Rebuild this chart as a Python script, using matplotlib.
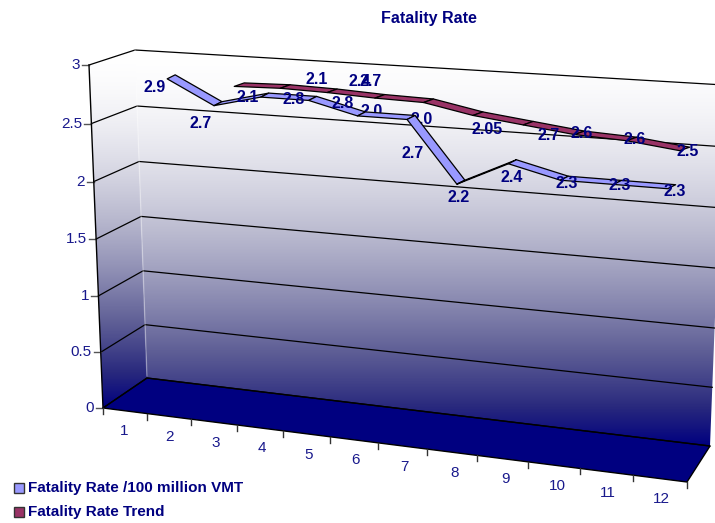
import numpy as np
import matplotlib
matplotlib.use('Agg')
import matplotlib.pyplot as plt
from matplotlib.patches import Polygon

plt.rcParams['font.family'] = ['Liberation Sans', 'DejaVu Sans']

categories = [1, 2, 3, 4, 5, 6, 7, 8, 9, 10, 11, 12]
value_ticks = [0, 0.5, 1, 1.5, 2, 2.5, 3]
value_tick_labels = ['0', '0.5', '1', '1.5', '2', '2.5', '3']
rate_name = 'Fatality Rate /100 million VMT'
trend_name = 'Fatality Rate Trend'
rate_values = [np.nan, 2.9, 2.7, 2.8, 2.8, 2.7, 2.7, 2.2, 2.4, 2.3, 2.3, 2.3]
trend_values = [np.nan, np.nan, 2.79, 2.80, 2.79, 2.77, 2.76, 2.68, 2.63, 2.58, 2.56, 2.51]

# data labels as they stand in the picture, some of them overlap
under_labels = ['2.0', '2.0']
over_labels = ['2.9', '2.7', '2.1', '2.8', '2.8', '2.7', '2.2', '2.4', '2.3', '2.3', '2.3',
               '2.1', '2.4', '2.7', '2.05', '2.7', '2.6', '2.6', '2.5']

# pixel layout
W, H = 715, 523
under_xy = [(372, 111), (422, 119)]
over_xy = [(155, 87), (201, 123), (248, 98), (294, 99), (343, 103), (413, 154), (459, 198),
           (512, 178), (567, 183), (620, 186), (675, 191),
           (317, 80), (360, 82), (371, 81), (487, 129), (549, 136), (582, 133), (635, 140), (688, 152)]
cat_label_xy = [(124, 431), (169, 437), (216, 443), (262, 448), (309, 455), (356, 460),
                (404, 467), (455, 473), (505, 479), (557, 486), (608, 493), (661, 499)]
# box corners, [depth][value][category]
corners = np.array([[[(103, 408), (687, 482)], [(89, 65), (704, 106)]],
                    [[(147, 378), (710, 446)], [(135, 50), (724, 85)]]], dtype=float)
NAVY = '#000080'
RATE_COLOR = '#9999FF'
TREND_COLOR = '#993366'


def persp(t, k):
    return t / (t + k * (1 - t))


def project(u, d, v):
    # u is in category widths from the left edge, d is depth 0..1, v the value
    a = persp(u / 12.0, 1.12)
    b = persp(v / 3.0, 1.03)
    front = (corners[0][0][0] * (1 - a) + corners[0][0][1] * a) * (1 - b) \
        + (corners[0][1][0] * (1 - a) + corners[0][1][1] * a) * b
    back = (corners[1][0][0] * (1 - a) + corners[1][0][1] * a) * (1 - b) \
        + (corners[1][1][0] * (1 - a) + corners[1][1][1] * a) * b
    return front * (1 - d) + back * d


def ribbon_pos(cat):
    return 1.52 + 0.984 * (cat - 2)


fig = plt.figure(figsize=(W / 100, H / 100), dpi=100)
ax = fig.add_axes([0, 0, 1, 1])


def gradient_wall(points, gamma=1.7):
    ys = [p[1] for p in points]
    xs = [p[0] for p in points]
    t = np.linspace(0, 1, 256) ** gamma
    red = 255 * (1 - t)
    # white to navy, greyer in the middle than a straight blend
    blue = np.interp(red, [0, 40, 95, 190, 255], [128, 125, 150, 210, 255])
    img = np.stack([red, red, blue], axis=1)[:, None, :] / 255
    im = ax.imshow(img, extent=(min(xs), max(xs), max(ys), min(ys)), aspect='auto', zorder=1)
    im.set_clip_path(Polygon(points, transform=ax.transData))


back_wall = [project(0, 1, 0), project(12, 1, 0), project(12, 1, 3), project(0, 1, 3)]
side_wall = [project(0, 0, 0), project(0, 1, 0), project(0, 1, 3), project(0, 0, 3)]
gradient_wall(back_wall)
gradient_wall(side_wall)

# floor
floor = [project(0, 0, 0), project(12, 0, 0), project(12, 1, 0), project(0, 1, 0)]
ax.add_patch(Polygon(floor, facecolor=NAVY, edgecolor='black', linewidth=1, zorder=2))

# gridlines on both walls
for v in value_ticks:
    pts = np.array([project(0, 0, v), project(0, 1, v), project(12, 1, v)])
    ax.plot(pts[:, 0], pts[:, 1], color='black', linewidth=0.9, zorder=3)
    x0, y0 = project(0, 0, v)
    ax.plot([x0 - 7, x0], [y0, y0], color='#555555', linewidth=1, zorder=3)
for lab, v in zip(value_tick_labels, value_ticks):
    x0, y0 = project(0, 0, v)
    ax.text(x0 - 9, y0, lab, ha='right', va='center', color=NAVY, fontsize=11, alpha=0.9, zorder=6)

pts = np.array([project(0, 0, 0), project(0, 0, 3)])
ax.plot(pts[:, 0], pts[:, 1], color='black', linewidth=1, zorder=3)
pts = np.array([project(0, 1, 0.02), project(0, 1, 3)])
ax.plot(pts[:, 0], pts[:, 1], color='white', linewidth=1, alpha=0.3, zorder=3)

# category ticks and labels
for i in range(13):
    x0, y0 = project(i, 0, 0)
    ax.plot([x0, x0], [y0, y0 + 6], color='#333333', linewidth=1, zorder=3)
for cat, (x, y) in zip(categories, cat_label_xy):
    ax.text(x, y, str(cat), ha='center', va='center', color=NAVY, fontsize=11, alpha=0.9, zorder=6)


def draw_ribbon(values, depth, offset, color, zorder):
    # flat strip, the second edge is the first one moved by offset pixels
    for i in range(len(values) - 1):
        if np.isnan(values[i]) or np.isnan(values[i + 1]):
            continue
        a = project(ribbon_pos(categories[i]), depth, values[i])
        b = project(ribbon_pos(categories[i + 1]), depth, values[i + 1])
        quad = [a, b, b + offset, a + offset]
        ax.add_patch(Polygon(quad, facecolor=color, edgecolor='black', linewidth=0.9,
                             joinstyle='round', zorder=zorder))


for (x, y), lab in zip(under_xy, under_labels):
    ax.text(x, y, lab, ha='center', va='center', color=NAVY, fontsize=11.5, fontweight='bold', zorder=4)

draw_ribbon(trend_values, 0.67, np.array([10, -3.5]), TREND_COLOR, 5)
draw_ribbon(rate_values, 0.17, np.array([8, -4]), RATE_COLOR, 5)

for (x, y), lab in zip(over_xy, over_labels):
    ax.text(x, y, lab, ha='center', va='center', color=NAVY, fontsize=11.5, fontweight='bold', zorder=7)

ax.text(429, 18, 'Fatality Rate', ha='center', va='center', color=NAVY, fontsize=11.5, fontweight='bold')

# legend
for (y, name, color) in [(488, rate_name, RATE_COLOR), (512, trend_name, TREND_COLOR)]:
    ax.add_patch(Polygon([(13.5, y - 5.5), (24, y - 5.5), (24, y + 5), (13.5, y + 5)],
                         facecolor=color, edgecolor='#333333', linewidth=1, zorder=5))
    ax.text(28, y, name, ha='left', va='center', color=NAVY, fontsize=11, fontweight='bold')

ax.set_xlim(0, W)
ax.set_ylim(H, 0)
ax.axis('off')
fig.savefig('out.png', dpi=100, facecolor='white')
